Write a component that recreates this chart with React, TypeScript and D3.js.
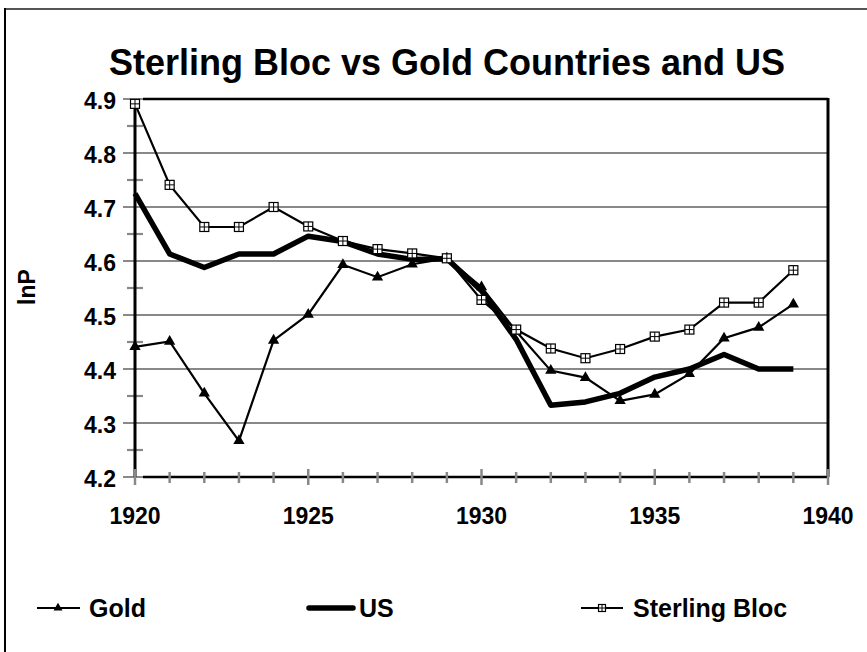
import React from "react";
import * as d3 from "d3";

const years = [1920,1921,1922,1923,1924,1925,1926,1927,1928,1929,1930,1931,1932,1933,1934,1935,1936,1937,1938,1939];
const gold = [4.441,4.451,4.355,4.267,4.453,4.501,4.593,4.570,4.594,4.605,4.552,4.470,4.397,4.384,4.341,4.353,4.391,4.457,4.477,4.520];
const us = [4.725,4.613,4.588,4.613,4.613,4.646,4.636,4.613,4.603,4.604,4.545,4.455,4.333,4.339,4.355,4.385,4.400,4.427,4.400,4.400];
const sterling = [4.891,4.741,4.663,4.663,4.700,4.664,4.637,4.622,4.614,4.605,4.528,4.473,4.438,4.420,4.437,4.460,4.473,4.523,4.523,4.583];
const yTicks = [4.2,4.3,4.4,4.5,4.6,4.7,4.8,4.9];
const xTicks = [1920,1925,1930,1935,1940];
const title = "Sterling Bloc vs Gold Countries and US";
const yLabel = "lnP";
const legendNames = ["Gold", "US", "Sterling Bloc"];

const FONT = "'Liberation Sans', Arial, sans-serif";

export default function App() {
  const W = 867, H = 652;
  const x = d3.scaleLinear().domain([1920, 1940]).range([135, 828]);
  const y = d3.scaleLinear().domain([4.2, 4.9]).range([477, 99]);
  const line = d3.line<number>().x((_, i) => x(years[i])).y((d) => y(d));
  const minorY = d3.range(4.25, 4.9, 0.1);
  const minorX = d3.range(1920, 1941, 1);
  const tri = d3.symbol().type(d3.symbolTriangle).size(55)();
  const triSmall = d3.symbol().type(d3.symbolTriangle).size(35)();

  const Square = ({ cx, cy, s = 9 }: { cx: number; cy: number; s?: number }) => (
    <g transform={`translate(${cx},${cy})`}>
      <rect x={-s / 2} y={-s / 2} width={s} height={s} fill="#fff" stroke="#000" strokeWidth={1.2} />
      <line x1={0} x2={0} y1={-s / 2} y2={s / 2} stroke="#000" strokeWidth={1} />
      <line x1={-s / 2} x2={s / 2} y1={0} y2={0} stroke="#000" strokeWidth={1} />
    </g>
  );

  const legendY = 608;
  return (
    <svg width={W} height={H} style={{ position: "absolute", left: 0, top: 0 }} fontFamily={FONT}>
      <rect x={0} y={0} width={W} height={H} fill="#fff" />
      <line x1={5} x2={W} y1={9} y2={9} stroke="#555" strokeWidth={2} />
      <line x1={5} x2={5} y1={8} y2={H} stroke="#000" strokeWidth={2} />
      <text x={447} y={75} textAnchor="middle" fontSize={36} fontWeight="bold">{title}</text>

      {/* gridlines */}
      {yTicks.map((t) => (
        <line key={"g" + t} x1={123} x2={828} y1={y(t)} y2={y(t)} stroke="#888" strokeWidth={2.2} />
      ))}
      {minorY.map((t) => (
        <line key={"m" + t} x1={127} x2={143} y1={y(t)} y2={y(t)} stroke="#888" strokeWidth={2.2} />
      ))}
      {/* plot border */}
      <line x1={143} x2={828} y1={y(4.9)} y2={y(4.9)} stroke="#000" strokeWidth={2.5} />
      <line x1={828} x2={828} y1={y(4.9) - 1} y2={y(4.2)} stroke="#000" strokeWidth={3} />
      <line x1={135} x2={135} y1={y(4.9) + 4} y2={y(4.2)} stroke="#000" strokeWidth={3} />
      <line x1={143} x2={828} y1={y(4.2)} y2={y(4.2)} stroke="#000" strokeWidth={2.5} />
      {minorX.map((t) => {
        const major = t % 5 === 0;
        return (
          <line key={"x" + t} x1={x(t)} x2={x(t)} y1={major ? 469 : 472} y2={major ? 485 : 483} stroke="#888" strokeWidth={2.5} />
        );
      })}

      {yTicks.map((t) => (
        <text key={"yl" + t} x={116} y={y(t) + 2} dy="0.36em" textAnchor="end" fontSize={23} fontWeight="bold">{t.toFixed(1)}</text>
      ))}
      {xTicks.map((t) => (
        <text key={"xl" + t} x={x(t)} y={524} textAnchor="middle" fontSize={23} fontWeight="bold">{t}</text>
      ))}
      <text transform={`translate(35,287) rotate(-90)`} textAnchor="middle" fontSize={23} fontWeight="bold">{yLabel}</text>

      {/* series */}
      <path d={line(gold) || ""} fill="none" stroke="#000" strokeWidth={2.2} />
      <path d={line(us) || ""} fill="none" stroke="#000" strokeWidth={5.5} strokeLinejoin="round" />
      <path d={line(sterling) || ""} fill="none" stroke="#000" strokeWidth={2.2} />
      {gold.map((v, i) => (
        <path key={"gt" + i} d={tri || ""} transform={`translate(${x(years[i])},${y(v)})`} fill="#000" />
      ))}
      {sterling.map((v, i) => (
        <Square key={"sq" + i} cx={x(years[i])} cy={y(v)} />
      ))}

      {/* legend */}
      <line x1={37} x2={80} y1={legendY} y2={legendY} stroke="#000" strokeWidth={2.2} />
      <path d={triSmall || ""} transform={`translate(58,${legendY})`} fill="#000" />
      <text x={89} y={617} fontSize={25} fontWeight="bold">{legendNames[0]}</text>
      <line x1={309} x2={353} y1={legendY} y2={legendY} stroke="#000" strokeWidth={5.5} strokeLinecap="round" />
      <text x={359} y={617} fontSize={25} fontWeight="bold">{legendNames[1]}</text>
      <line x1={581} x2={623} y1={legendY} y2={legendY} stroke="#000" strokeWidth={2.2} />
      <Square cx={602} cy={legendY} s={7} />
      <text x={633} y={617} fontSize={25} fontWeight="bold">{legendNames[2]}</text>
    </svg>
  );
}
